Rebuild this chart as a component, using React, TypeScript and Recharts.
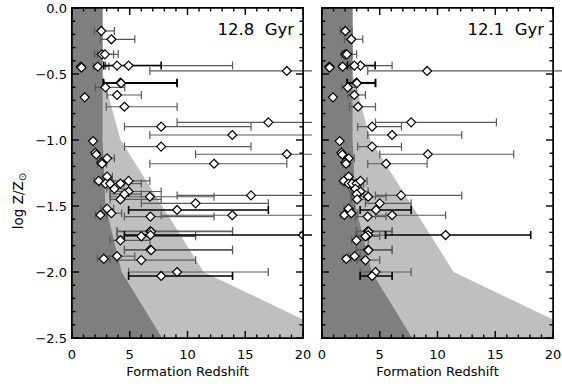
import React from "react";
import { ComposedChart, Area, Scatter, ErrorBar, XAxis, YAxis } from "recharts";

// log Z/Zsun of each star (shared by both panels)
const logZ = [
  -0.174, -0.237, -0.351, -0.351, -0.444, -0.452, -0.444, -0.436, -0.436, -0.477,
  -0.566, -0.57, -0.601, -0.677, -0.659, -0.748, -0.866, -0.899, -0.962, -1.008,
  -1.05, -1.096, -1.11, -1.108, -1.139, -1.17, -1.18, -1.18, -1.278, -1.31,
  -1.33, -1.33, -1.33, -1.31, -1.37, -1.39, -1.41, -1.45, -1.43, -1.42,
  -1.48, -1.53, -1.52, -1.568, -1.555, -1.58, -1.57, -1.69, -1.695, -1.72,
  -1.72, -1.73, -1.76, -1.83, -1.835, -1.9, -1.88, -1.91, -2.0, -2.03,
];

// formation redshift, 12.8 Gyr
const zf128 = [
  2.54, 3.41, 2.6, 2.85, 0.78, 0.82, 2.23, 3.9, 4.9, 18.6,
  4.19, 4.25, 2.89, 1.1, 3.9, 4.54, 17.0, 7.72, 13.88, 1.82,
  7.72, 2.02, 2.1, 18.6, 3.04, 2.54, 2.6, 12.3, 3.04, 2.31,
  2.9, 3.3, 4.19, 4.9, 3.67, 4.9, 4.54, 4.19, 6.74, 15.5,
  10.7, 9.1, 3.04, 2.46, 3.41, 6.79, 13.88, 6.79, 6.85, 6.79,
  20.0, 6.0, 4.19, 6.79, 6.85, 2.75, 3.9, 6.0, 9.1, 7.72,
];
const lo128 = [
  1.94, 2.46, 1.94, 2.2, 0.78, 0.82, 1.85, 2.75, 2.9, 6.74,
  2.69, 2.75, 2.02, 1.1, 3.03, 2.97, 9.1, 4.54, 6.74, 1.82,
  4.54, 2.02, 2.1, 10.7, 2.46, 2.2, 2.2, 6.74, 2.6, 1.9,
  2.4, 2.7, 2.9, 3.4, 3.0, 3.3, 3.3, 3.3, 3.3, 9.1,
  6.0, 4.9, 2.5, 2.0, 2.6, 4.54, 7.72, 3.9, 3.9, 4.54,
  4.54, 3.9, 3.3, 4.54, 4.54, 2.2, 2.75, 3.9, 4.9, 4.9,
];
const hi128 = [
  3.67, 5.44, 3.6, 4.0, 0.78, 0.82, 3.2, 7.72, 13.9, 24,
  9.1, 9.1, 4.57, 1.1, 6.0, 9.1, 24, 15.5, 24, 1.82,
  15.5, 2.02, 2.1, 24, 3.67, 2.9, 3.0, 18.6, 3.5, 2.8,
  3.6, 4.5, 6.0, 6.74, 4.9, 7.72, 6.0, 7.72, 12.3, 24,
  17.0, 17.0, 3.6, 3.0, 4.3, 12.3, 24, 13.9, 13.9, 10.7,
  24, 10.7, 6.74, 13.9, 13.9, 3.3, 5.44, 10.7, 17.0, 13.9,
];

// formation redshift, 12.1 Gyr
const zf121 = [
  2.02, 2.54, 2.0, 2.15, 0.64, 0.66, 1.79, 2.8, 3.33, 9.1,
  2.98, 3.02, 2.23, 0.95, 2.8, 3.12, 7.72, 4.34, 6.07, 1.53,
  4.34, 1.68, 1.75, 9.16, 2.31, 2.02, 2.08, 5.55, 2.31, 1.88,
  2.3, 2.6, 3.0, 3.33, 2.89, 3.33, 3.0, 3.04, 4.0, 6.85,
  5.0, 4.68, 2.31, 1.94, 2.54, 3.96, 6.07, 3.99, 4.02, 3.99,
  10.7, 3.76, 2.98, 3.99, 4.02, 2.11, 2.83, 3.76, 4.63, 4.34,
];
const lo121 = [
  1.59, 1.94, 1.7, 1.8, 0.64, 0.66, 1.5, 2.2, 2.4, 3.96,
  2.17, 2.2, 1.7, 0.95, 2.23, 2.37, 4.63, 3.09, 3.96, 1.53,
  3.09, 1.68, 1.75, 5.0, 1.9, 1.8, 1.8, 3.96, 2.0, 1.6,
  2.0, 2.2, 2.4, 2.6, 2.4, 2.6, 2.5, 2.5, 2.56, 4.63,
  3.76, 3.3, 1.9, 1.6, 2.1, 2.9, 4.63, 2.98, 2.98, 3.0,
  5.49, 2.9, 2.56, 2.98, 2.98, 1.8, 2.3, 3.04, 3.3, 3.3,
];
const hi121 = [
  2.6, 3.53, 2.6, 3.0, 0.64, 0.66, 2.5, 4.6, 6.07, 24,
  4.63, 4.63, 3.0, 0.95, 3.76, 4.63, 15.1, 6.88, 12.1, 1.53,
  6.88, 1.68, 1.75, 16.6, 2.8, 2.3, 2.4, 9.1, 2.6, 2.3,
  2.8, 3.1, 3.6, 3.9, 3.4, 4.0, 3.6, 3.8, 5.55, 12.1,
  7.72, 7.72, 2.8, 2.4, 3.1, 5.55, 10.7, 6.07, 6.07, 5.55,
  18.07, 5.0, 4.0, 6.07, 6.07, 2.5, 3.3, 5.0, 7.72, 6.07,
];

// stars of the second subsample
const subsampleB = [7, 10, 11, 41, 50, 59];

// excluded zones (redshift, log Z)
const darkZoneZ = [0, 2.66, 2.66, 2.9, 4.3, 7.8];
const darkZoneLogZ = [0, 0, -1.0, -1.5, -2.0, -2.5];
const lightZoneZ = [2.66, 4.2, 11.4, 20];
const lightZoneLogZ = [-0.5, -1.0, -2.0, -2.36];

const xTicks = [0, 1, 2, 3, 4, 5, 6, 7, 8, 9, 10, 11, 12, 13, 14, 15, 16, 17, 18, 19, 20];
const yTicks = [
  -2.5, -2.4, -2.3, -2.2, -2.1, -2.0, -1.9, -1.8, -1.7, -1.6, -1.5, -1.4, -1.3,
  -1.2, -1.1, -1.0, -0.9, -0.8, -0.7, -0.6, -0.5, -0.4, -0.3, -0.2, -0.1, 0.0,
];

const FONT = "DejaVu Sans";

const darkZone = darkZoneZ.map((x, i) => ({ x, y: darkZoneLogZ[i] }));
const lightZone = lightZoneZ.map((x, i) => ({ x, y: lightZoneLogZ[i] }));

function stars(zf: number[], lo: number[], hi: number[], inB: boolean) {
  return logZ
    .map((y, i) => ({ i, x: zf[i], y, err: [zf[i] - lo[i], hi[i] - zf[i]] }))
    .filter((d) => subsampleB.includes(d.i) === inB);
}

const Diamond = (props: any) => {
  const { cx, cy } = props;
  const r = 4.5;
  return (
    <polygon
      points={`${cx},${cy - r} ${cx + r},${cy} ${cx},${cy + r} ${cx - r},${cy}`}
      fill="#fff"
      stroke="#000"
      strokeWidth={1.2}
    />
  );
};

const TICK_W = 1.4;

const BottomTick = (props: any) => {
  const { x, y, payload } = props;
  const major = payload.value % 5 === 0;
  return (
    <g>
      <line x1={x} x2={x} y1={y} y2={y - (major ? 7 : 3.5)} stroke="#000" strokeWidth={TICK_W} />
      {major && (
        <text x={x} y={y + 21} textAnchor="middle" fontFamily={FONT} fontSize={13} fill="#000">
          {payload.value}
        </text>
      )}
    </g>
  );
};

const TopTick = (props: any) => {
  const { x, y, payload } = props;
  const major = payload.value % 5 === 0;
  return <line x1={x} x2={x} y1={y} y2={y + (major ? 7 : 3.5)} stroke="#000" strokeWidth={TICK_W} />;
};

const isMajorY = (v: number) => Math.abs(v * 2 - Math.round(v * 2)) < 1e-6;

const LeftTick = (props: any) => {
  const { x, y, payload, labels } = props;
  const v = payload.value;
  const major = isMajorY(v);
  const txt = v === 0 ? "0.0" : "\u2212" + Math.abs(v).toFixed(1);
  return (
    <g>
      <line x1={x} x2={x + (major ? 7 : 3.5)} y1={y} y2={y} stroke="#000" strokeWidth={TICK_W} />
      {labels && major && (
        <text x={x - 5} y={y + 5} textAnchor="end" fontFamily={FONT} fontSize={13} fill="#000">
          {txt}
        </text>
      )}
    </g>
  );
};

const RightTick = (props: any) => {
  const { x, y, payload } = props;
  const major = isMajorY(payload.value);
  return <line x1={x} x2={x - (major ? 7 : 3.5)} y1={y} y2={y} stroke="#000" strokeWidth={TICK_W} />;
};

function Panel(props: {
  width: number;
  left: number;
  zf: number[];
  lo: number[];
  hi: number[];
  age: string;
  showY: boolean;
}) {
  const { width, left, zf, lo, hi, age, showY } = props;
  const right = 9;
  const top = 8;
  const bottom = 46;
  const plotW = width - left - right;
  const plotH = 384 - top - bottom;
  const layer: React.CSSProperties = { position: "absolute", left: 0, top: 0 };
  const frame = { stroke: "#000", strokeWidth: 1.5 };
  return (
    <div style={{ position: "relative", width, height: 384 }}>
      {/* data layer */}
      <div style={layer}>
        <ComposedChart width={width} height={384} margin={{ top, right, bottom, left }}>
          <XAxis xAxisId="b" dataKey="x" type="number" domain={[0, 20]} allowDataOverflow hide />
          <YAxis yAxisId="l" dataKey="y" type="number" domain={[-2.5, 0]} allowDataOverflow hide />
          <Area
            data={lightZone}
            xAxisId="b"
            yAxisId="l"
            dataKey="y"
            type="linear"
            baseValue={-2.5}
            stroke="none"
            fill="#bfbfbf"
            fillOpacity={1}
            isAnimationActive={false}
          />
          <Area
            data={darkZone}
            xAxisId="b"
            yAxisId="l"
            dataKey="y"
            type="linear"
            baseValue={-2.5}
            stroke="none"
            fill="#7f7f7f"
            fillOpacity={1}
            isAnimationActive={false}
          />
          <Scatter
            data={stars(zf, lo, hi, false)}
            xAxisId="b"
            yAxisId="l"
            shape={<Diamond />}
            isAnimationActive={false}
          >
            <ErrorBar dataKey="err" direction="x" width={4} stroke="#5a5a5a" strokeWidth={1.2} />
          </Scatter>
          <Scatter
            data={stars(zf, lo, hi, true)}
            xAxisId="b"
            yAxisId="l"
            shape={<Diamond />}
            isAnimationActive={false}
          >
            <ErrorBar dataKey="err" direction="x" width={4} stroke="#000" strokeWidth={1.6} />
          </Scatter>
        </ComposedChart>
      </div>
      {/* axis layer: frame, ticks and tick labels */}
      <div style={layer}>
        <ComposedChart width={width} height={384} margin={{ top: 0, right: 0, bottom: 0, left: 0 }}>
          <XAxis
            xAxisId="b"
            dataKey="x"
            type="number"
            domain={[0, 20]}
            ticks={xTicks}
            interval={0}
            height={bottom}
            tickSize={0}
            tickMargin={0}
            tickLine={false}
            axisLine={frame}
            tick={<BottomTick />}
          />
          <XAxis
            xAxisId="t"
            dataKey="x"
            type="number"
            domain={[0, 20]}
            ticks={xTicks}
            interval={0}
            orientation="top"
            height={top}
            tickSize={0}
            tickMargin={0}
            tickLine={false}
            axisLine={frame}
            tick={<TopTick />}
          />
          <YAxis
            yAxisId="l"
            dataKey="y"
            type="number"
            domain={[-2.5, 0]}
            ticks={yTicks}
            interval={0}
            width={left}
            tickSize={0}
            tickMargin={0}
            tickLine={false}
            axisLine={frame}
            tick={<LeftTick labels={showY} />}
          />
          <YAxis
            yAxisId="r"
            dataKey="y"
            type="number"
            domain={[-2.5, 0]}
            ticks={yTicks}
            interval={0}
            orientation="right"
            width={right}
            tickSize={0}
            tickMargin={0}
            tickLine={false}
            axisLine={frame}
            tick={<RightTick />}
          />
          <Scatter data={darkZone} xAxisId="b" yAxisId="l" fill="none" isAnimationActive={false} />
          <Scatter data={darkZone} xAxisId="t" yAxisId="r" fill="none" isAnimationActive={false} />
        </ComposedChart>
      </div>
      {/* plot frame, on the same pixels as the axis lines */}
      <div
        style={{
          position: "absolute",
          left: left - 0.75,
          top: top - 0.75,
          width: plotW + 1.5,
          height: plotH + 1.5,
          boxSizing: "border-box",
          border: "1.5px solid #000",
          pointerEvents: "none",
        }}
      />
      <div
        style={{
          position: "absolute",
          left,
          width: plotW,
          top: 364,
          textAlign: "center",
          fontFamily: FONT,
          fontSize: 13,
          color: "#000",
          whiteSpace: "nowrap",
        }}
      >
        Formation Redshift
      </div>
      {showY && (
        <div
          style={{
            position: "absolute",
            left: 20,
            top: 201,
            transform: "translate(-50%, -50%) rotate(-90deg)",
            fontFamily: FONT,
            fontSize: 13.5,
            color: "#000",
            whiteSpace: "nowrap",
            lineHeight: "16px",
          }}
        >
          log Z/Z<sub style={{ fontSize: 10, verticalAlign: "-3px" }}>{"\u2299"}</sub>
        </div>
      )}
      <div
        style={{
          position: "absolute",
          top: 20,
          right: right + 9,
          fontFamily: FONT,
          fontSize: 16.5,
          color: "#000",
          whiteSpace: "pre",
        }}
      >
        {age}
      </div>
    </div>
  );
}

export default function App() {
  return (
    <div style={{ position: "absolute", left: 0, top: 0, width: 562, height: 384, background: "#fff" }}>
      <div style={{ position: "absolute", left: 0, top: 0 }}>
        <Panel width={312} left={72} zf={zf128} lo={lo128} hi={hi128} age="12.8  Gyr" showY />
      </div>
      <div style={{ position: "absolute", left: 312, top: 0 }}>
        <Panel width={250} left={10} zf={zf121} lo={lo121} hi={hi121} age="12.1  Gyr" showY={false} />
      </div>
    </div>
  );
}
